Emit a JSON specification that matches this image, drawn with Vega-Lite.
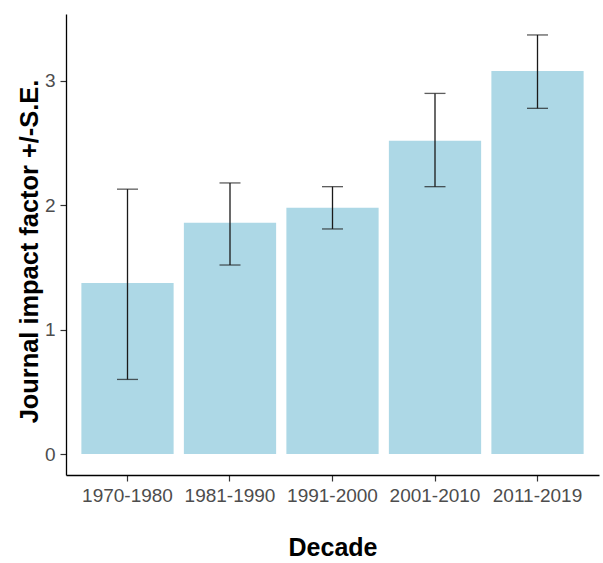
{
  "$schema": "https://vega.github.io/schema/vega-lite/v6.json",
  "width": 533,
  "height": 461,
  "autosize": {"type": "none"},
  "padding": {"left": 66, "top": 14, "right": 4, "bottom": 88},
  "background": "white",
  "config": {
    "view": {"stroke": null},
    "font": "Liberation Sans"
  },
  "data": {
    "values": [
      {"decade": "1970-1980", "jif": 1.375, "lo": 0.60, "hi": 2.13},
      {"decade": "1981-1990", "jif": 1.86, "lo": 1.52, "hi": 2.18},
      {"decade": "1991-2000", "jif": 1.98, "lo": 1.81, "hi": 2.15},
      {"decade": "2001-2010", "jif": 2.52, "lo": 2.15, "hi": 2.90},
      {"decade": "2011-2019", "jif": 3.08, "lo": 2.78, "hi": 3.37}
    ]
  },
  "encoding": {
    "x": {
      "field": "decade",
      "type": "nominal",
      "sort": null,
      "scale": {"paddingInner": 0.1, "paddingOuter": 0.15},
      "axis": {
        "title": "Decade",
        "titleFont": "Liberation Sans",
        "titleFontSize": 25,
        "titleFontWeight": "bold",
        "titleColor": "black",
        "titlePadding": 30,
        "labelAngle": 0,
        "labelFont": "Liberation Sans",
        "labelFontSize": 19,
        "labelColor": "#4D4D4D",
        "labelPadding": 5,
        "tickColor": "#333333",
        "tickSize": 6,
        "tickWidth": 1.2,
        "domainColor": "black",
        "domainWidth": 1.3,
        "grid": false
      }
    }
  },
  "layer": [
    {
      "mark": {"type": "bar", "color": "#ADD8E6"},
      "encoding": {
        "y": {
          "field": "jif",
          "type": "quantitative",
          "scale": {"domain": [-0.1685, 3.5385], "nice": false, "zero": false},
          "axis": {
            "title": "Journal impact factor +/-S.E.",
            "titleFont": "Liberation Sans",
            "titleFontSize": 25.4,
            "titleFontWeight": "bold",
            "titleColor": "black",
            "titleAngle": 270,
            "titleX": -29,
            "titleY": 237,
            "titleAlign": "center",
            "titleBaseline": "alphabetic",
            "values": [0, 1, 2, 3],
            "format": "d",
            "labelFont": "Liberation Sans",
            "labelFontSize": 19,
            "labelColor": "#4D4D4D",
            "labelPadding": 5,
            "tickColor": "#333333",
            "tickSize": 6,
            "tickWidth": 1.2,
            "domainColor": "black",
            "domainWidth": 1.3,
            "grid": false
          }
        }
      }
    },
    {
      "mark": {"type": "rule", "color": "#1a1a1a", "strokeWidth": 1.3},
      "encoding": {
        "y": {"field": "lo", "type": "quantitative"},
        "y2": {"field": "hi"}
      }
    },
    {
      "mark": {"type": "tick", "color": "#1a1a1a", "size": 21, "thickness": 1.3},
      "encoding": {
        "y": {"field": "lo", "type": "quantitative"}
      }
    },
    {
      "mark": {"type": "tick", "color": "#1a1a1a", "size": 21, "thickness": 1.3},
      "encoding": {
        "y": {"field": "hi", "type": "quantitative"}
      }
    }
  ]
}
